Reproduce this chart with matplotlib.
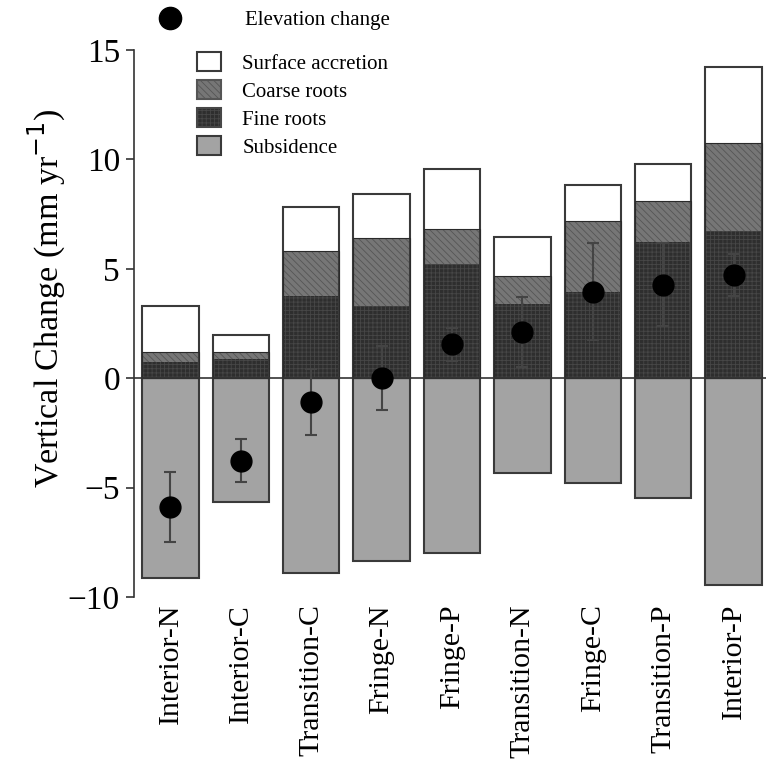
import numpy as np
import matplotlib
matplotlib.use('Agg')
import matplotlib.pyplot as plt
from matplotlib.patches import Patch
from matplotlib.lines import Line2D

# Data (mm/yr)
sites = ['Interior-N', 'Interior-C', 'Transition-C', 'Fringe-N', 'Fringe-P',
         'Transition-N', 'Fringe-C', 'Transition-P', 'Interior-P']
fine_roots = [0.75, 0.87, 3.78, 3.29, 5.21, 3.37, 3.96, 6.21, 6.74]
coarse_roots = [0.45, 0.33, 2.04, 3.12, 1.60, 1.28, 3.22, 1.89, 4.00]
surface_accretion = [2.10, 0.77, 2.01, 2.00, 2.76, 1.81, 1.64, 1.71, 3.48]
subsidence = [-9.15, -5.65, -8.90, -8.36, -7.97, -4.33, -4.81, -5.48, -9.46]
elevation = [-5.9, -3.78, -1.1, 0.02, 1.55, 2.1, 3.96, 4.28, 4.72]
elevation_err = [1.6, 0.98, 1.5, 1.47, 0.75, 1.6, 2.2, 1.9, 0.98]

plt.rcParams['font.family'] = ['Liberation Serif', 'DejaVu Serif']
plt.rcParams['hatch.linewidth'] = 0.6

x = np.arange(len(sites))
fine = np.array(fine_roots)
coarse = np.array(coarse_roots)
surf = np.array(surface_accretion)
w = 0.8
edge = '#3a3a3a'

fig = plt.figure(figsize=(7.69, 7.66), dpi=100)
ax = fig.add_axes([0.174, 0.2206, 0.822, 0.7141])

# filled parts (hatch colour comes from edgecolor, outlines drawn after)
ax.bar(x, subsidence, w, color='#a3a3a3', edgecolor='#a3a3a3', linewidth=0, zorder=2)
ax.bar(x, fine, w, color='#2e2e2e', edgecolor='#474747', hatch='++++', linewidth=0, zorder=2)
ax.bar(x, coarse, w, bottom=fine, color='#767676', edgecolor='#555555', hatch='\\\\\\\\\\',
       linewidth=0, zorder=2)
ax.bar(x, surf, w, bottom=fine + coarse, color='white', linewidth=0, zorder=2)

# outlines
ax.bar(x, subsidence, w, fill=False, edgecolor=edge, linewidth=1.5, zorder=3)
ax.bar(x, fine + coarse + surf, w, fill=False, edgecolor=edge, linewidth=1.5, zorder=3)
ax.bar(x, fine + coarse, w, fill=False, edgecolor='#2a2a2a', linewidth=0.8, zorder=3)

ax.axhline(0, color='#333333', linewidth=1.2, zorder=4)

ax.errorbar(x, elevation, yerr=elevation_err, fmt='o', color='black', ms=15,
            ecolor='#444444', elinewidth=1.5, capsize=4, capthick=1.5, zorder=5)

ax.set_xlim(-0.52, 8.46)
ax.set_ylim(-10, 15)
ax.set_yticks([-10, -5, 0, 5, 10, 15])
for s in ['top', 'right', 'bottom']:
    ax.spines[s].set_visible(False)
ax.spines['left'].set_color('#333333')
ax.spines['left'].set_linewidth(1.2)
ax.tick_params(axis='y', direction='out', length=6, width=1.2, color='#333333',
               labelsize=24, pad=4)
ax.set_xticks(x)
ax.set_xticklabels(sites, rotation=90, fontsize=21.5)
ax.tick_params(axis='x', length=0, pad=5)
ax.set_ylabel(r'Vertical Change (mm yr$^{-1}$)', fontsize=24.5)
ax.yaxis.set_label_coords(-0.104, 0.547)

# legends
h_elev = [Line2D([], [], marker='o', color='black', ls='none', ms=16)]
fig.legend(h_elev, ['Elevation change'], loc='upper left', bbox_to_anchor=(0.191, 1.0),
           frameon=False, fontsize=15, handlelength=1.2, handletextpad=3.0, borderpad=0.0)

h_parts = [Patch(facecolor='white', edgecolor=edge, lw=1.5),
           Patch(facecolor='#767676', edgecolor='#555555', hatch='\\\\\\\\\\', lw=1.5),
           Patch(facecolor='#2e2e2e', edgecolor='#474747', hatch='++++', lw=1.5),
           Patch(facecolor='#a3a3a3', edgecolor=edge, lw=1.5)]
fig.legend(h_parts, ['Surface accretion', 'Coarse roots', 'Fine roots', 'Subsidence'],
           loc='upper left', bbox_to_anchor=(0.234, 0.954), frameon=False, fontsize=15,
           handlelength=1.15, handleheight=1.05, handletextpad=1.05, labelspacing=0.3,
           borderpad=0.3)

fig.savefig('out.png', dpi=100)
